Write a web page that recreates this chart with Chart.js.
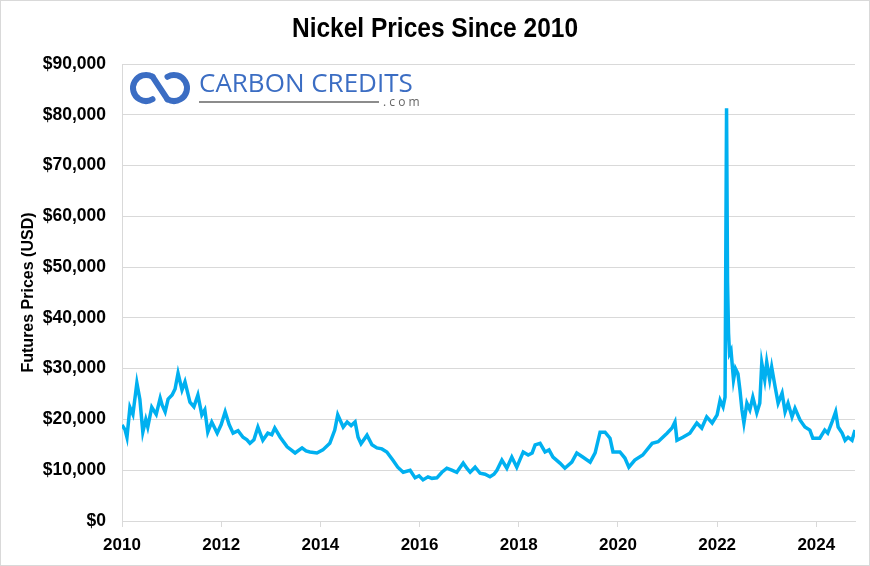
<!DOCTYPE html>
<html>
<head>
<meta charset="utf-8">
<title>Nickel Prices Since 2010</title>
<script src="https://cdn.jsdelivr.net/npm/chart.js@4.4.1/dist/chart.umd.min.js"></script>
<style>
  html, body { margin: 0; padding: 0; background: #fff; }
  #wrap { width: 870px; height: 566px; }
</style>
</head>
<body>
<div id="wrap"><canvas id="nickelChart" width="870" height="566"></canvas></div>
<script>
// Nickel futures, USD per tonne
const years = [
  2010.00, 2010.06, 2010.10, 2010.16, 2010.22, 2010.30, 2010.36, 2010.42, 2010.48, 2010.52,
  2010.60, 2010.69, 2010.77, 2010.81, 2010.87, 2010.93, 2011.01, 2011.07, 2011.13, 2011.21,
  2011.27, 2011.37, 2011.45, 2011.53, 2011.61, 2011.67, 2011.73, 2011.81, 2011.92, 2012.00,
  2012.08, 2012.16, 2012.24, 2012.34, 2012.44, 2012.52, 2012.58, 2012.66, 2012.74, 2012.84,
  2012.94, 2013.02, 2013.08, 2013.19, 2013.33, 2013.41, 2013.49, 2013.63, 2013.71, 2013.79,
  2013.93, 2014.05, 2014.19, 2014.29, 2014.35, 2014.46, 2014.54, 2014.62, 2014.70, 2014.76,
  2014.82, 2014.94, 2015.04, 2015.14, 2015.24, 2015.34, 2015.46, 2015.56, 2015.67, 2015.81,
  2015.91, 2015.99, 2016.07, 2016.17, 2016.25, 2016.35, 2016.45, 2016.55, 2016.65, 2016.75,
  2016.88, 2016.96, 2017.02, 2017.12, 2017.22, 2017.32, 2017.42, 2017.50, 2017.56, 2017.66,
  2017.76, 2017.86, 2017.96, 2018.02, 2018.09, 2018.19, 2018.27, 2018.33, 2018.43, 2018.53,
  2018.61, 2018.69, 2018.83, 2018.93, 2019.07, 2019.17, 2019.29, 2019.44, 2019.54, 2019.64,
  2019.74, 2019.84, 2019.90, 2020.04, 2020.14, 2020.22, 2020.34, 2020.50, 2020.69, 2020.81,
  2020.99, 2021.09, 2021.15, 2021.19, 2021.31, 2021.45, 2021.59, 2021.69, 2021.79, 2021.90,
  2022.00, 2022.06, 2022.12, 2022.16, 2022.19, 2022.21, 2022.23, 2022.25, 2022.28, 2022.33,
  2022.37, 2022.42, 2022.46, 2022.50, 2022.54, 2022.60, 2022.66, 2022.72, 2022.80, 2022.86,
  2022.90, 2022.96, 2023.00, 2023.06, 2023.10, 2023.17, 2023.23, 2023.31, 2023.37, 2023.43,
  2023.51, 2023.57, 2023.67, 2023.77, 2023.87, 2023.93, 2024.07, 2024.17, 2024.23, 2024.31,
  2024.39, 2024.44, 2024.52, 2024.58, 2024.64, 2024.72, 2024.78
];
const prices = [
  18900, 18000, 16500, 22400, 21000, 27200, 24000, 17500, 20000, 18500,
  22400, 21000, 24200, 22800, 21500, 24000, 24800, 26000, 29100, 25800,
  27400, 23400, 22500, 24800, 20900, 21900, 17500, 19500, 17300, 19000,
  21500, 19000, 17300, 17800, 16500, 16000, 15300, 16000, 18500, 15900,
  17300, 17000, 18300, 16500, 14600, 14000, 13400, 14400, 13800, 13600,
  13400, 14000, 15300, 17900, 20900, 18500, 19500, 18800, 19500, 16500,
  15200, 16900, 15000, 14400, 14200, 13600, 12000, 10600, 9600, 10000,
  8500, 8900, 8100, 8700, 8400, 8500, 9600, 10400, 10000, 9600,
  11400, 10300, 9600, 10600, 9400, 9200, 8700, 9200, 10000, 12000,
  10400, 12600, 10600, 12000, 13600, 13000, 13400, 15000, 15300, 13600,
  14000, 12600, 11400, 10400, 11600, 13400, 12600, 11600, 13400, 17500,
  17500, 16300, 13600, 13600, 12400, 10600, 12000, 13000, 15300, 15600,
  17300, 18300, 19500, 15900, 16500, 17300, 19300, 18300, 20500, 19300,
  20900, 23800, 22500, 24400, 81300, 47000, 37000, 33000, 33600, 27800,
  30000, 29000, 25800, 21900, 19300, 23200, 21900, 24400, 21300, 23200,
  31100, 27800, 31300, 27800, 30300, 26400, 23200, 25200, 21500, 23200,
  20500, 22200, 19900, 18500, 17900, 16300, 16300, 17900, 17300, 19300,
  21500, 18500, 17300, 15900, 16500, 15900, 17900
];
const xTickYears = [2010, 2012, 2014, 2016, 2018, 2020, 2022, 2024];
const yTickValues = [0, 10000, 20000, 30000, 40000, 50000, 60000, 70000, 80000, 90000];

const labelFont = "'Liberation Sans', Arial, sans-serif";

// Title, logo and the thin frame round the picture
const decorPlugin = {
  id: 'decor',
  beforeDraw(chart) {
    const ctx = chart.ctx;
    ctx.save();
    ctx.fillStyle = '#ffffff';
    ctx.fillRect(0, 0, chart.width, chart.height);
    ctx.restore();
  },
  afterDraw(chart) {
    const ctx = chart.ctx;
    ctx.save();

    // title, squeezed sideways to look like the narrow face of the original
    const title = 'Nickel Prices Since 2010';
    ctx.fillStyle = '#000';
    ctx.font = "bold 28px " + labelFont;
    ctx.textAlign = 'center';
    ctx.textBaseline = 'alphabetic';
    const sx = 286 / ctx.measureText(title).width;
    ctx.save();
    ctx.translate(435, 37);
    ctx.scale(sx, 1);
    ctx.fillText(title, 0, 0);
    ctx.restore();

    // logo icon
    const blue = '#3b6dc3';
    ctx.strokeStyle = blue;
    ctx.lineWidth = 6;
    ctx.lineCap = 'round';
    ctx.beginPath();
    ctx.arc(146, 88, 13, -Math.PI / 3, Math.PI / 3, true);
    ctx.stroke();
    ctx.beginPath();
    ctx.arc(174, 88, 13, Math.PI * 4 / 3, Math.PI * 2 / 3, false);
    ctx.stroke();
    ctx.beginPath();
    ctx.moveTo(152.5, 76.7);
    ctx.lineTo(167.5, 99.3);
    ctx.stroke();

    // logo text
    ctx.fillStyle = blue;
    ctx.textAlign = 'left';
    ctx.font = "26px 'Open Sans', sans-serif";
    ctx.fillText('CARBON CREDITS', 199, 92, 217);
    ctx.strokeStyle = '#666';
    ctx.lineWidth = 1.5;
    ctx.lineCap = 'butt';
    ctx.beginPath();
    ctx.moveTo(199, 102);
    ctx.lineTo(379, 102);
    ctx.stroke();
    ctx.fillStyle = '#666';
    ctx.font = "12px 'Open Sans', sans-serif";
    ctx.fillText('. c o m', 383, 106);

    // frame
    ctx.strokeStyle = '#d9d9d9';
    ctx.lineWidth = 1;
    ctx.strokeRect(0.5, 0.5, chart.width - 1, chart.height - 1);
    ctx.restore();
  }
};

const ctx = document.getElementById('nickelChart').getContext('2d');
window.nickelChart = new Chart(ctx, {
  type: 'line',
  data: {
    datasets: [{
      label: 'Nickel futures',
      data: years.map((yr, i) => ({ x: yr, y: prices[i] })),
      borderColor: '#00b0f0',
      borderWidth: 3.5,
      pointRadius: 0,
      tension: 0,
      fill: false
    }]
  },
  options: {
    responsive: false,
    animation: false,
    layout: { padding: { top: 64, right: 15, left: 10, bottom: 4 } },
    plugins: {
      legend: { display: false },
      title: { display: false },
      tooltip: { enabled: false }
    },
    scales: {
      x: {
        type: 'linear',
        min: 2010,
        max: 2024.78,
        afterBuildTicks: (scale) => { scale.ticks = xTickYears.map(v => ({ value: v })); },
        afterFit: (scale) => { scale.height = 566 - 521 - 4; },
        ticks: {
          includeBounds: false,
          color: '#000',
          font: { family: labelFont, size: 17, weight: 'bold' },
          padding: 8,
          maxRotation: 0,
          callback: (v) => String(v)
        },
        grid: { drawOnChartArea: false, drawTicks: true, tickLength: 6, color: '#d9d9d9' },
        border: { color: '#d9d9d9' }
      },
      y: {
        min: 0,
        max: 90000,
        afterBuildTicks: (scale) => { scale.ticks = yTickValues.map(v => ({ value: v })); },
        afterFit: (scale) => { scale.width = 122 - 10; },
        ticks: {
          color: '#000',
          font: { family: labelFont, size: 17.5, weight: 'bold' },
          padding: 16,
          callback: (v) => '$' + v.toLocaleString('en-US')
        },
        grid: { color: '#d9d9d9', drawTicks: false },
        border: { color: '#d9d9d9' },
        title: {
          display: true,
          text: 'Futures Prices (USD)',
          color: '#000',
          font: { family: labelFont, size: 16, weight: 'bold' },
          padding: { top: 9, bottom: 0 }
        }
      }
    }
  },
  plugins: [decorPlugin]
});
</script>
</body>
</html>
